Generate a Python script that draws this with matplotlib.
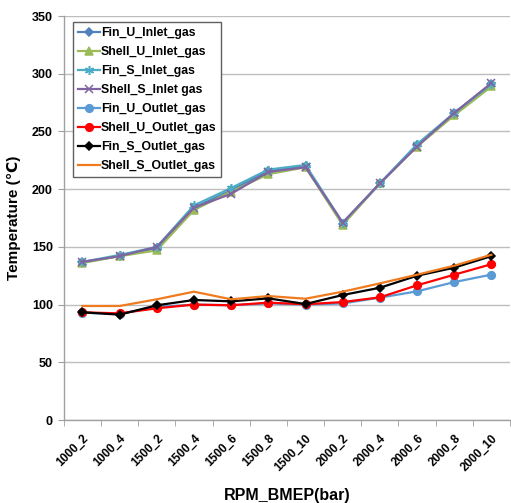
import matplotlib
matplotlib.use("Agg")
import matplotlib.pyplot as plt
from matplotlib.ticker import FixedLocator, NullFormatter

plt.rcParams['font.family'] = ['Liberation Sans', 'DejaVu Sans']
plt.rcParams['font.weight'] = 'bold'

# Operating points (engine speed _ BMEP)
conditions = ["1000_2", "1000_4", "1500_2", "1500_4", "1500_6", "1500_8",
              "1500_10", "2000_2", "2000_4", "2000_6", "2000_8", "2000_10"]

# Gas temperatures (deg C)
fin_u_inlet = [137, 142, 149, 184, 199, 216, 220, 170, 205, 238, 266, 291]
shell_u_inlet = [136, 142, 147, 182, 198, 213, 219, 169, 205, 237, 264, 289]
fin_s_inlet = [137, 143, 150, 186, 201, 217, 221, 171, 205, 239, 266, 291]
shell_s_inlet = [137, 142, 150, 184, 196, 215, 219, 171, 205, 237, 266, 292]
fin_u_outlet = [93, 92, 98, 100, 99.5, 101, 100, 101, 106, 111.5, 119.5, 126]
shell_u_outlet = [93.3, 92.4, 96.8, 100, 99.4, 101.7, 100.3, 102.2, 106.3, 116.7, 125.9, 135]
fin_s_outlet = [93.3, 91.3, 99.4, 104, 102.8, 105.4, 100.5, 108.3, 114.6, 125, 132, 142]
shell_s_outlet = [98.8, 98.8, 104.6, 111.2, 104.6, 107.4, 105.1, 111.2, 118.4, 125.9, 133.7, 143.2]

y_ticks = [0, 50, 100, 150, 200, 250, 300, 350]

fig = plt.figure(figsize=(5.11, 5.03), dpi=100)
ax = fig.add_axes([0.125, 0.165, 0.873, 0.803])

x = list(range(len(conditions)))
lw = 1.6
series = [
    (fin_u_inlet, "Fin_U_Inlet_gas", "#4F81BD", "D", 4.2),
    (shell_u_inlet, "Shell_U_Inlet_gas", "#9BBB59", "^", 6),
    (fin_s_inlet, "Fin_S_Inlet_gas", "#4BACC6", (6, 2, 0), 6.5),
    (shell_s_inlet, "Shell_S_Inlet gas", "#8064A2", "x", 6),
    (fin_u_outlet, "Fin_U_Outlet_gas", "#5B9BD5", "o", 5.5),
    (shell_u_outlet, "Shell_U_Outlet_gas", "#FF0000", "o", 5.5),
    (fin_s_outlet, "Fin_S_Outlet_gas", "#000000", "D", 4.2),
    (shell_s_outlet, "Shell_S_Outlet_gas", "#F07B1F", None, 0),
]
for vals, label, color, marker, ms in series:
    ax.plot(x, vals, color=color, lw=lw, marker=marker, ms=ms,
            markeredgewidth=1.1, label=label)

ax.set_xlim(-0.5, len(conditions) - 0.5)
ax.set_ylim(0, 350)
ax.set_yticks(y_ticks)
ax.yaxis.grid(True, color="#BEBEBE", lw=1.0)
ax.set_axisbelow(True)

ax.set_xticks(x)
ax.set_xticklabels(conditions, rotation=45, ha="right", rotation_mode="anchor",
                   fontsize=8.5, fontweight="bold")
ax.xaxis.set_minor_locator(FixedLocator([i - 0.5 for i in range(len(conditions) + 1)]))
ax.xaxis.set_minor_formatter(NullFormatter())
ax.tick_params(axis="x", which="major", length=0, pad=9)
ax.tick_params(axis="x", which="minor", length=4, color="#A0A0A0", direction="out")
ax.tick_params(axis="y", length=4, color="#A0A0A0", direction="out", labelsize=9, pad=4)
for lbl in ax.get_yticklabels():
    lbl.set_fontweight("bold")

for side in ("top", "right"):
    ax.spines[side].set_visible(False)
for side in ("left", "bottom"):
    ax.spines[side].set_color("#A0A0A0")
    ax.spines[side].set_linewidth(1.0)

ax.set_ylabel("Temperature (℃)", fontsize=11, fontweight="bold", labelpad=8)
ax.set_xlabel("RPM_BMEP(bar)", fontsize=11.5, fontweight="bold", labelpad=10)

leg = ax.legend(loc="upper left", bbox_to_anchor=(0.02, 0.985), fancybox=False,
                framealpha=1, edgecolor="#606060", prop={"weight": "bold", "size": 8.8},
                handlelength=1.85, handletextpad=0.05, labelspacing=0.57,
                borderpad=0.4, borderaxespad=0)
leg.get_frame().set_linewidth(1.0)

fig.savefig("out.png", dpi=100)
